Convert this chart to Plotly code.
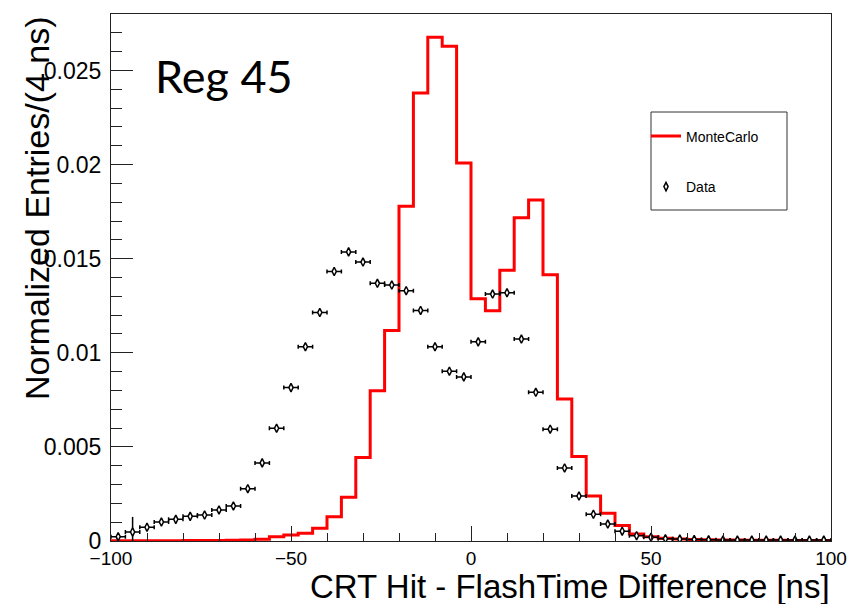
import plotly.graph_objects as go

# Binning: 50 bins of 4 ns between -100 and 100 ns
bin_width = 4
bin_low_edges = list(range(-100, 100, bin_width))
bin_centers = [e + bin_width / 2 for e in bin_low_edges]

# MonteCarlo normalized entries per bin
mc_values = [
    0.00001, 0.00001, 0.00001, 0.00001, 0.00001, 0.00002, 0.00002, 0.00003, 0.00004, 0.00005,
    0.00009, 0.00023, 0.00032, 0.00041, 0.00068, 0.00129, 0.00232, 0.00443, 0.00798, 0.01119,
    0.01778, 0.02380, 0.02677, 0.02629, 0.02009, 0.01287, 0.01223, 0.01438, 0.01718, 0.01812,
    0.01415, 0.00754, 0.00449, 0.00239, 0.00147, 0.00082, 0.00037, 0.00023, 0.00014, 0.00010,
    0.00008, 0.00006, 0.00005, 0.00005, 0.00004, 0.00004, 0.00004, 0.00003, 0.00003, 0.00003,
]

# Data normalized entries per bin and their vertical uncertainties
data_values = [
    0.00023, 0.00048, 0.00073, 0.00101, 0.00115, 0.00131, 0.00138, 0.00165, 0.00186, 0.00278,
    0.00415, 0.00599, 0.00815, 0.01032, 0.01214, 0.01432, 0.01536, 0.01482, 0.01369, 0.01360,
    0.01330, 0.01225, 0.01032, 0.00902, 0.00872, 0.01058, 0.01312, 0.01319, 0.01073, 0.00790,
    0.00594, 0.00388, 0.00239, 0.00142, 0.00090, 0.00052, 0.00028, 0.00020, 0.00012, 0.00010,
    0.00008, 0.00006, 0.00005, 0.00005, 0.00005, 0.00005, 0.00005, 0.00005, 0.00005, 0.00005,
]
data_errors = [
    0.00010, 0.00080, 0.00012, 0.00012, 0.00012, 0.00012, 0.00012, 0.00012, 0.00012, 0.00012,
    0.00012, 0.00012, 0.00012, 0.00012, 0.00012, 0.00012, 0.00012, 0.00012, 0.00012, 0.00012,
    0.00012, 0.00012, 0.00012, 0.00012, 0.00012, 0.00012, 0.00012, 0.00012, 0.00012, 0.00012,
    0.00012, 0.00010, 0.00008, 0.00006, 0.00005, 0.00004, 0.00003, 0.00003, 0.00002, 0.00002,
    0.00002, 0.00002, 0.00002, 0.00002, 0.00002, 0.00002, 0.00002, 0.00002, 0.00002, 0.00002,
]

x_tick_values = [-100, -50, 0, 50, 100]
y_tick_values = [0, 0.005, 0.01, 0.015, 0.02, 0.025]

FONT = "Liberation Sans, Arial, sans-serif"

# Step outline of the MonteCarlo histogram
step_x = bin_low_edges + [bin_low_edges[-1] + bin_width]
step_y = mc_values + [mc_values[-1]]

fig = go.Figure()

fig.add_trace(go.Scatter(
    x=step_x, y=step_y, mode="lines", name="MonteCarlo",
    line=dict(color="#ff0000", width=3, shape="hv"),
    legend="legend",
))

fig.add_trace(go.Scatter(
    x=bin_centers, y=data_values, mode="markers", name="Data",
    marker=dict(symbol="diamond-tall", size=6, color="white",
                line=dict(color="black", width=1.5)),
    error_x=dict(type="constant", value=bin_width / 2, width=2,
                 thickness=1.5, color="black"),
    error_y=dict(type="data", array=data_errors, width=0,
                 thickness=1.5, color="black"),
    legend="legend2",
))

# Plot area in pixels: x 111..831, y 14..541
PL, PR, PT, PB = 111, 831, 14, 541
PW, PH = PR - PL, PB - PT


def px_x(p):
    return (p - PL) / PW


def px_y(p):
    return (PB - p) / PH


axis_common = dict(
    showline=True, linecolor="#222", linewidth=1.2, mirror=True,
    showgrid=False, zeroline=False, ticks="inside", tickcolor="#222",
    tickwidth=1, automargin=False,
)

fig.update_xaxes(
    range=[-100, 100], tickvals=x_tick_values, ticklen=15,
    minor=dict(dtick=10, ticks="inside", ticklen=8, tickcolor="#222", tickwidth=1),
    tickfont=dict(family=FONT, size=19, color="black"),
    ticklabelstandoff=0,
    **axis_common,
)
fig.update_yaxes(
    range=[0, 0.028], tickvals=y_tick_values, ticklen=22,
    minor=dict(dtick=0.001, ticks="inside", ticklen=11, tickcolor="#222", tickwidth=1),
    tickfont=dict(family=FONT, size=23, color="black"),
    ticklabelstandoff=4,
    **axis_common,
)

legend_common = dict(
    bgcolor="rgba(0,0,0,0)", borderwidth=0, itemwidth=30,
    font=dict(family=FONT, size=14, color="black"),
    xanchor="left", yanchor="middle", itemclick=False,
)

fig.update_layout(
    width=852, height=604,
    margin=dict(l=PL, r=852 - PR, t=PT, b=604 - PB),
    paper_bgcolor="white", plot_bgcolor="white",
    showlegend=True,
    legend=dict(x=px_x(646), y=px_y(136.5), **legend_common),
    legend2=dict(x=px_x(646), y=px_y(187), **legend_common),
    shapes=[dict(
        type="rect", xref="paper", yref="paper",
        x0=px_x(651), x1=px_x(787), y0=px_y(210), y1=px_y(112),
        line=dict(color="#333", width=1), fillcolor="rgba(0,0,0,0)",
        layer="above",
    )],
    annotations=[
        dict(text="Reg 45", xref="paper", yref="paper",
             x=px_x(153), y=px_y(76), xanchor="left", yanchor="middle",
             showarrow=False, font=dict(family="Lato, Carlito, sans-serif", size=45, color="black")),
        dict(text="Normalized Entries/(4 ns)", xref="paper", yref="paper",
             x=0, xshift=37 - PL, y=1, yanchor="top", xanchor="center",
             textangle=-90, showarrow=False,
             font=dict(family=FONT, size=34, color="black")),
        dict(text="CRT Hit - FlashTime Difference [ns]", xref="paper", yref="paper",
             x=1, xanchor="right", y=0, yanchor="middle", yshift=-45, borderpad=0,
             showarrow=False,
             font=dict(family=FONT, size=33, color="black")),
    ],
)

fig.write_html("out.html")
